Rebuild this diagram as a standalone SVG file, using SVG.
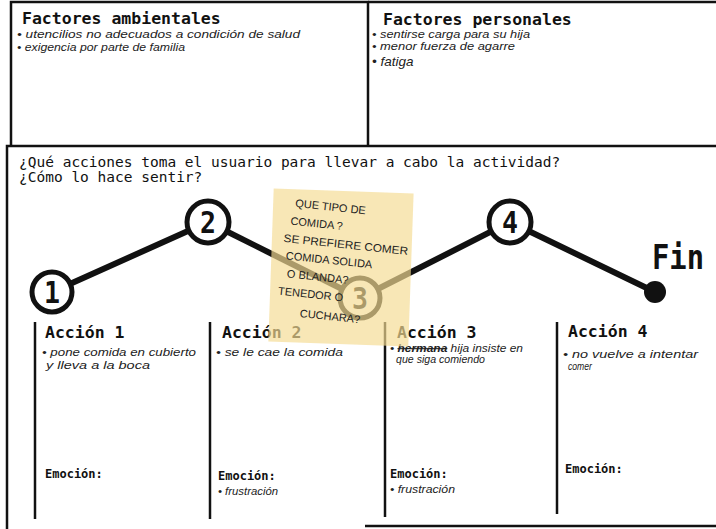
<svg xmlns="http://www.w3.org/2000/svg" width="716" height="529" viewBox="0 0 716 529">
<style>
.frame{stroke:#111;stroke-width:2.5;fill:none}
.sep{stroke:#111;stroke-width:2.5}
.title{font-family:"DejaVu Sans Mono",monospace;font-weight:bold;font-size:16.5px;fill:#111}
.q{font-family:"DejaVu Sans Mono",monospace;font-size:14.5px;fill:#111}
.hand{font-family:"Liberation Sans",sans-serif;font-style:italic;font-size:11px;fill:#222}
.emo{font-family:"DejaVu Sans Mono",monospace;font-weight:bold;font-size:12px;fill:#111}
.path{stroke:#111;stroke-width:6;fill:none;stroke-linecap:round}
.node{stroke:#111;stroke-width:5;fill:#fff}
.num{font-family:"DejaVu Sans Mono",monospace;font-weight:bold;font-size:30px;fill:#111;text-anchor:middle}
.sticky{font-family:"Liberation Sans",sans-serif;font-size:11px;fill:#222}
</style>
<rect width="716" height="529" fill="#fff"/>

<g id="factores-ambientales">
<path class="frame" d="M11,146 V2 H368 V146"/>
<text class="title" x="22" y="24">Factores ambientales</text>
<text class="hand" x="17" y="38" textLength="283" lengthAdjust="spacingAndGlyphs">• utencilios no adecuados a condición de salud</text>
<text class="hand" x="17" y="51" textLength="168" lengthAdjust="spacingAndGlyphs">• exigencia por parte de familia</text>
</g>

<g id="factores-personales">
<path class="frame" d="M368,2 H716"/>
<text class="title" x="383" y="25">Factores personales</text>
<text class="hand" x="372" y="38" textLength="158" lengthAdjust="spacingAndGlyphs">• sentirse carga para su hija</text>
<text class="hand" x="372" y="50" textLength="143" lengthAdjust="spacingAndGlyphs">• menor fuerza de agarre</text>
<text class="hand" x="372" y="66" style="font-size:13.5px">• fatiga</text>
</g>

<g id="acciones-frame">
<path class="frame" d="M7,529 V146 H716"/>
<path class="frame" d="M365,526 H716" stroke="#333"/>
<text class="q" x="19" y="167">¿Qué acciones toma el usuario para llevar a cabo la actividad?</text>
<text class="q" x="19" y="182">¿Cómo lo hace sentir?</text>
</g>

<g id="connectors">
<line class="path" x1="52" y1="292" x2="208" y2="222"/>
<line class="path" x1="208" y1="222" x2="360" y2="298"/>
<line class="path" x1="360" y1="298" x2="510" y2="222"/>
<line class="path" x1="510" y1="222" x2="655" y2="292"/>
</g>

<g id="paso-1">
<circle class="node" cx="52" cy="292" r="20"/>
<text class="num" x="52" y="303" textLength="16" lengthAdjust="spacingAndGlyphs">1</text>
</g>
<g id="paso-2">
<circle class="node" cx="208" cy="222" r="21"/>
<text class="num" x="208" y="233" textLength="16" lengthAdjust="spacingAndGlyphs">2</text>
</g>
<g id="paso-3">
<circle class="node" cx="360" cy="298" r="20"/>
<text class="num" x="360" y="309" textLength="16" lengthAdjust="spacingAndGlyphs">3</text>
</g>
<g id="paso-4">
<circle class="node" cx="510" cy="222" r="21"/>
<text class="num" x="510" y="233" textLength="16" lengthAdjust="spacingAndGlyphs">4</text>
</g>
<g id="fin">
<circle cx="655" cy="292" r="11" fill="#111"/>
<text x="652" y="269" font-family="DejaVu Sans Mono,monospace" font-weight="bold" font-size="34" fill="#111" textLength="52" lengthAdjust="spacingAndGlyphs">Fin</text>
</g>

<g id="accion-1">
<line class="sep" x1="35" y1="322" x2="35" y2="519"/>
<text class="title" x="45" y="338">Acción 1</text>
<text class="hand" x="42" y="356" textLength="154" lengthAdjust="spacingAndGlyphs">• pone comida en cubierto</text>
<text class="hand" x="46" y="369" textLength="104" lengthAdjust="spacingAndGlyphs">y lleva a la boca</text>
<text class="emo" x="45" y="478">Emoción:</text>
</g>
<g id="accion-2">
<line class="sep" x1="210" y1="322" x2="210" y2="519"/>
<text class="title" x="222" y="338">Acción 2</text>
<text class="hand" x="216" y="356" textLength="127" lengthAdjust="spacingAndGlyphs">• se le cae la comida</text>
<text class="emo" x="218" y="480">Emoción:</text>
<text class="hand" x="218" y="495" textLength="60" lengthAdjust="spacingAndGlyphs">• frustración</text>
</g>
<g id="accion-3">
<line class="sep" x1="385" y1="322" x2="385" y2="517"/>
<text class="title" x="397" y="338">Acción 3</text>
<text class="hand" x="390" y="352" textLength="133" lengthAdjust="spacingAndGlyphs">• <tspan text-decoration="line-through" font-weight="bold">hermana</tspan> hija insiste en</text>
<text class="hand" x="396" y="363" textLength="89" lengthAdjust="spacingAndGlyphs">que siga comiendo</text>
<text class="emo" x="390" y="478">Emoción:</text>
<text class="hand" x="390" y="493" textLength="65" lengthAdjust="spacingAndGlyphs">• frustración</text>
</g>
<g id="accion-4">
<line class="sep" x1="557" y1="322" x2="557" y2="514"/>
<text class="title" x="568" y="337">Acción 4</text>
<text class="hand" x="563" y="358" textLength="135" lengthAdjust="spacingAndGlyphs">• no vuelve a intentar</text>
<text class="hand" x="568" y="370" textLength="24" lengthAdjust="spacingAndGlyphs">comer</text>
<text class="emo" x="565" y="473">Emoción:</text>
</g>

<g id="nota-adhesiva" transform="rotate(2 341 267)">
<rect x="271" y="191" width="140" height="153" fill="#f5dc93" fill-opacity="0.68"/>
<g transform="rotate(4 341 267)">
<text class="sticky" x="289" y="212">QUE TIPO DE</text>
<text class="sticky" x="286" y="230">COMIDA ?</text>
<text class="sticky" x="281" y="248" textLength="125" lengthAdjust="spacingAndGlyphs">SE PREFIERE COMER</text>
<text class="sticky" x="285" y="265">COMIDA SOLIDA</text>
<text class="sticky" x="288" y="283">O BLANDA?</text>
<text class="sticky" x="281" y="301">TENEDOR O</text>
<text class="sticky" x="305" y="321">CUCHARA?</text>
</g>
</g>
</svg>
